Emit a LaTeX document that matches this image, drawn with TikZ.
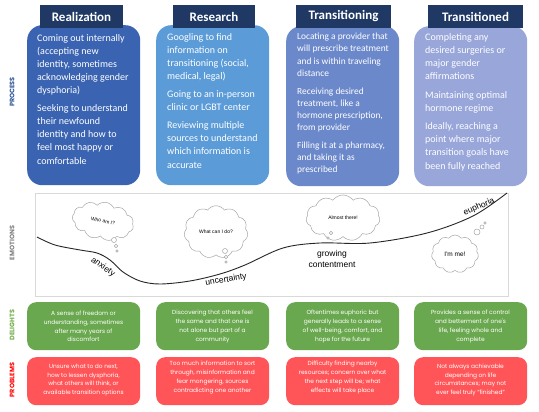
\documentclass[tikz,border=0pt]{standalone}
\usepackage{fontspec}
\setmainfont{Carlito}
\newfontfamily\popp{Poppins}
\newfontfamily\arial{Liberation Sans}
\usetikzlibrary{shapes.symbols}
\definecolor{cA}{HTML}{3A63B2}
\definecolor{cB}{HTML}{5B9BD8}
\definecolor{cC}{HTML}{6B88CB}
\definecolor{cD}{HTML}{98A6DA}
\definecolor{hdr}{HTML}{1F3864}
\definecolor{grn}{HTML}{6AA84F}
\definecolor{rd}{HTML}{FF5558}
\definecolor{lblue}{HTML}{2F5597}
\definecolor{lgray}{HTML}{7F7F7F}
\definecolor{lgreen}{HTML}{70AD47}
\definecolor{lred}{HTML}{FF0000}
\definecolor{bord}{HTML}{D9D9D9}
\definecolor{cloudc}{HTML}{A6A6A6}
\tikzset{
  procbox/.style={rounded corners=15pt, minimum width=113pt, minimum height=160pt, anchor=north west, inner sep=0pt},
  hdrbox/.style={fill=hdr, text=white, font=\fontsize{13}{15}\selectfont\bfseries, minimum height=23pt, inner sep=0pt},
  proctext/.style={anchor=north west, text=white, align=left, inner sep=0pt, font=\fontsize{10}{13.1}\selectfont},
  smallbox/.style={rounded corners=9pt, minimum width=113pt, minimum height=48pt, anchor=north west, inner sep=0pt},
  smalltext/.style={text=white, align=center, inner sep=0pt, font=\popp\fontsize{5.9}{8.8}\selectfont},
  rowlbl/.style={rotate=90, font=\popp\bfseries\fontsize{6.5}{8}\selectfont},
  thought/.style={cloud, cloud puffs=11, cloud puff arc=110, draw=cloudc, fill=white, line width=0.5pt, inner sep=0pt, font=\arial\fontsize{5}{6}\selectfont},
  bub/.style={circle, draw=cloudc, fill=white, line width=0.5pt, inner sep=0pt},
  curvelbl/.style={font=\arial\fontsize{8.5}{10}\selectfont, inner sep=0pt}
}
\begin{document}
\begin{tikzpicture}[x=1pt,y=-1pt]
\useasboundingbox (0,0) rectangle (539,412);
% row labels
\node[rowlbl, text=lblue] (lp) at (12,92) {PROCESS};
\node[rowlbl, text=lgray] (le) at (12,243) {EMOTIONS};
\node[rowlbl, text=lgreen] (ld) at (12,325) {DELIGHTS};
\node[rowlbl, text=lred] (lr) at (12,380) {PROBLEMS};
% process boxes
\node[procbox, fill=cA] (p1) at (27,25) {};
\node[procbox, fill=cB] (p2) at (156,25) {};
\node[procbox, fill=cC] (p3) at (286,26) {};
\node[procbox, fill=cD] (p4) at (414,26) {};
% headers
\node[hdrbox, minimum width=83pt] (h1) at (81.5,16.5) {Realization};
\node[hdrbox, minimum width=82pt] (h2) at (214,16.5) {Research};
\node[hdrbox, minimum width=95pt] (h3) at (343.5,16.5) {Transitioning};
\node[hdrbox, minimum width=95pt] (h4) at (475.5,16.5) {Transitioned};
% process texts
\node[proctext] (t1) at (37,34) {Coming out internally\\(accepting new\\identity, sometimes\\acknowledging gender\\dysphoria)\\[5pt]Seeking to understand\\their newfound\\identity and how to\\feel most happy or\\comfortable};
\node[proctext] (t2) at (167,33) {Googling to find\\information on\\transitioning (social,\\medical, legal)\\[5pt]Going to an in-person\\clinic or LGBT center\\[5pt]Reviewing multiple\\sources to understand\\which information is\\accurate};
\node[proctext, font=\fontsize{9.4}{12.2}\selectfont] (t3) at (297,33) {Locating a provider that\\will prescribe treatment\\and is within traveling\\distance\\[5.5pt]Receiving desired\\treatment, like a\\hormone prescription,\\from provider\\[5.5pt]Filling it at a pharmacy,\\and taking it as\\prescribed};
\node[proctext] (t4) at (425,33) {Completing any\\desired surgeries or\\major gender\\affirmations\\[5.5pt]Maintaining optimal\\hormone regime\\[5.5pt]Ideally, reaching a\\point where major\\transition goals have\\been fully reached};
% emotions box
\node[draw=bord, line width=1.2pt, fill=white, minimum width=473pt, minimum height=103pt, anchor=north west, inner sep=0pt] (emo) at (35,193) {};
% curve
\draw[line width=0.9pt, black!85] plot[smooth, tension=0.55] coordinates {(37,237) (55,245) (80,250) (97,253) (110,260) (123,272) (140,281) (160,284) (190,281) (220,274) (245,265) (283,248) (320,243) (370,243) (427,233) (473,216) (507,193)};
\node[curvelbl, rotate=-35] (ax) at (103,267) {anxiety};
\node[curvelbl, rotate=9] (un) at (226,280) {uncertainty};
\node[curvelbl, align=center, font=\arial\fontsize{8.5}{11}\selectfont] (gc) at (332,259) {growing\\contentment};
\node[curvelbl, rotate=24] (eu) at (479,207) {euphoria};
% clouds
\node[thought, minimum width=62pt, minimum height=30pt, rotate=-10] (c1) at (103,221) {Who am I?};
\node[bub, minimum size=5pt] (c1a) at (114,240) {};
\node[bub, minimum size=3.6pt] (c1b) at (116,246) {};
\node[bub, minimum size=2.6pt] (c1c) at (117,251) {};
\node[thought, minimum width=64pt, minimum height=30pt] (c2) at (216,232) {What can I do?};
\node[bub, minimum size=5pt] (c2a) at (225,251) {};
\node[bub, minimum size=3.6pt] (c2b) at (226,257) {};
\node[bub, minimum size=2.6pt] (c2c) at (226,262) {};
\node[thought, minimum width=74pt, minimum height=24pt] (c3) at (343,218) {Almost there!};
\node[bub, minimum size=3.6pt] (c3a) at (331,233) {};
\node[bub, minimum size=2.6pt] (c3b) at (328,238) {};
\node[thought, minimum width=47pt, minimum height=38pt, font=\arial\fontsize{6.5}{8}\selectfont] (c4) at (455,254) {I'm me!};
\node[bub, minimum size=6pt] (c4a) at (477,232) {};
\node[bub, minimum size=4pt] (c4b) at (482,227) {};
\node[bub, minimum size=2.6pt] (c4c) at (485,223) {};
% delights
\node[smallbox, fill=grn] (d1) at (27,302) {};
\node[smallbox, fill=grn] (d2) at (156,302) {};
\node[smallbox, fill=grn] (d3) at (286,302) {};
\node[smallbox, fill=grn] (d4) at (414,302) {};
\node[smalltext] (dt1) at (83.5,326.5) {A sense of freedom or\\understanding, sometimes\\after many years of\\discomfort};
\node[smalltext] (dt2) at (212.5,326.5) {Discovering that others feel\\the same and that one is\\not alone but part of a\\community};
\node[smalltext] (dt3) at (342.5,326.5) {Oftentimes euphoric but\\generally leads to a sense\\of well-being, comfort, and\\hope for the future};
\node[smalltext] (dt4) at (470.5,326.5) {Provides a sense of control\\and betterment of one's\\life, feeling whole and\\complete};
% problems
\node[smallbox, fill=rd] (r1) at (27,357) {};
\node[smallbox, fill=rd] (r2) at (156,357) {};
\node[smallbox, fill=rd] (r3) at (286,357) {};
\node[smallbox, fill=rd] (r4) at (414,357) {};
\node[smalltext] (rt1) at (83.5,380) {Unsure what to do next,\\how to lessen dysphoria,\\what others will think, or\\available transition options};
\node[smalltext] (rt2) at (212.5,377.5) {Too much information to sort\\through, misinformation and\\fear mongering, sources\\contradicting one another};
\node[smalltext] (rt3) at (342.5,377.5) {Difficulty finding nearby\\resources; concern over what\\the next step will be; what\\effects will take place};
\node[smalltext] (rt4) at (470.5,380) {Not always achievable\\depending on life\\circumstances; may not\\ever feel truly “finished”};
\end{tikzpicture}
\end{document}
